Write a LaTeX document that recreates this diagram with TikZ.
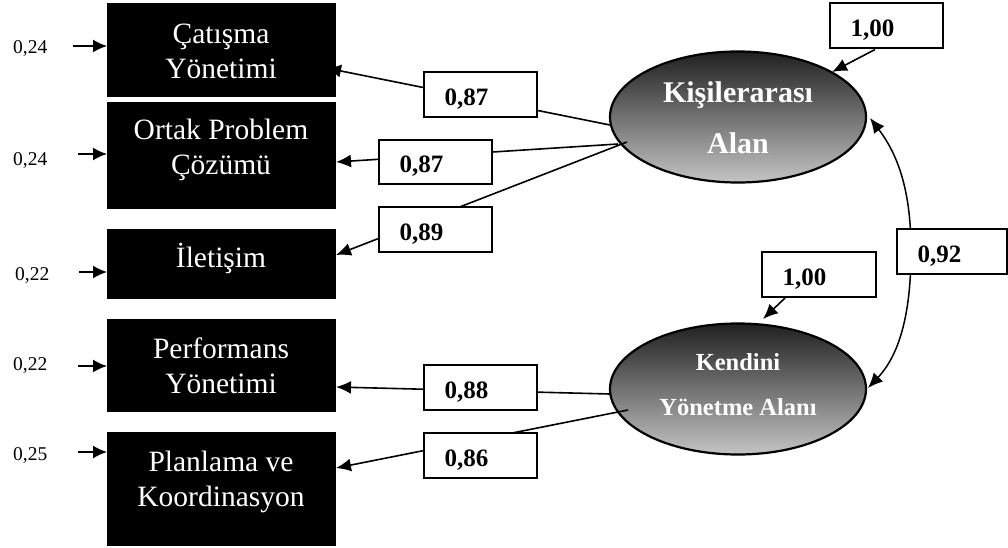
\documentclass[tikz,border=0pt]{standalone}
\usepackage{fontspec}
\setmainfont{Liberation Serif}
\usetikzlibrary{arrows.meta,shapes.geometric}
\definecolor{etop}{RGB}{32,32,32}
\definecolor{ebot}{RGB}{196,196,196}
\begin{document}
\begin{tikzpicture}[x=1pt,y=-1pt,
  blackbox/.style={draw=black,line width=0.8pt,fill=black,inner sep=0pt,minimum width=228pt},
  boxtext/.style={text=white,align=center,inner sep=0pt,anchor=north,font=\fontsize{29.5}{35}\selectfont},
  coef/.style={draw=black,line width=2pt,fill=white,inner ysep=0pt,inner xsep=0pt,
    minimum width=113pt,minimum height=45pt,text width=72pt,align=left,
    text height=24pt,text depth=2.4pt,
    font=\bfseries\fontsize{25}{28}\selectfont},
  errlab/.style={inner sep=0pt,anchor=base west,font=\fontsize{19.5}{22}\selectfont},
  latent/.style={ellipse,draw=black,line width=2.2pt,top color=etop,bottom color=ebot,
    inner sep=0pt,minimum width=256pt,minimum height=131pt},
  lattext/.style={text=white,align=center,inner sep=0pt,anchor=north},
  conn/.style={line width=1.6pt,-{Latex[length=15pt,width=13pt]}},
  small/.style={line width=1.6pt,-{Latex[length=14pt,width=13pt]}}
]
\useasboundingbox (0,0) rectangle (1008,548);

% latent variables
\node[latent] (kis) at (738,117) {};
\node[latent] (ken) at (738,389) {};
\node[lattext,font=\bfseries\fontsize{30}{51}\selectfont] (kt) at (738,81.5) {Kişilerarası\\Alan};
\node[lattext,font=\bfseries\fontsize{24.5}{45}\selectfont] (kn) at (738,353.5) {Kendini\\Yönetme Alanı};

% loading connectors
\coordinate (k1) at (610,125); \coordinate (p1) at (326,68);
\coordinate (k2) at (618,144); \coordinate (p2) at (336,162);
\coordinate (k3) at (627,142); \coordinate (p3) at (336,255);
\coordinate (k4) at (610,394); \coordinate (p4) at (336,387);
\coordinate (k5) at (628,410); \coordinate (p5) at (336,468);
\foreach \i in {1,...,5} {\draw[conn] (k\i) -- (p\i);}

% observed variables
\node[blackbox,minimum height=93pt] (b1) at (221,49.5) {};
\node[blackbox,minimum height=106pt] (b2) at (221,155) {};
\node[blackbox,minimum height=69pt] (b3) at (221,263.5) {};
\node[blackbox,minimum height=92pt] (b4) at (221,365) {};
\node[blackbox,minimum height=113pt] (b5) at (221,488.5) {};
\node[boxtext] (t1) at (221,23.5) {Çatışma\\Yönetimi};
\node[boxtext] (t2) at (221,119) {Ortak Problem\\Çözümü};
\node[boxtext,anchor=base] (t3) at (221,267) {İletişim};
\node[boxtext] (t4) at (221,338) {Performans\\Yönetimi};
\node[boxtext] (t5) at (221,451) {Planlama ve\\Koordinasyon};

% error terms
\node[errlab] (e1) at (13,54) {0,24};
\node[errlab] (e2) at (13,166) {0,24};
\node[errlab] (e3) at (15,280) {0,22};
\node[errlab] (e4) at (13,370) {0,22};
\node[errlab] (e5) at (13,460) {0,25};
\coordinate (s1) at (73,46);  \coordinate (d1) at (107,46);
\coordinate (s2) at (78,154); \coordinate (d2) at (107,154);
\coordinate (s3) at (79,272); \coordinate (d3) at (107,272);
\coordinate (s4) at (78,366); \coordinate (d4) at (107,366);
\coordinate (s5) at (78,452); \coordinate (d5) at (107,452);
\foreach \i in {1,...,5} {\draw[small] (s\i) -- (d\i);}

% variance arrows
\coordinate (v1) at (832,72);
\coordinate (v2) at (763,319);
\node[coef] (c6) at (886.5,26) {1,00};
\node[coef,minimum width=114pt,text width=73pt] (c7) at (819,274.5) {1,00};
\draw[conn] (c6.south -| 875,0) -- (v1);
\draw[conn] (c7.south -| 785,0) -- (v2);

% covariance
\coordinate (q1) at (870,118);
\coordinate (q2) at (868,388);
\draw[line width=1.5pt,{Latex[length=15pt,width=13pt]}-{Latex[length=15pt,width=13pt]}]
  (q1) .. controls (902,160) and (911,200) .. (911,251)
       .. controls (911,300) and (904,350) .. (q2);

% loading labels
\node[coef] (c1) at (480.5,94.5) {0,87};
\node[coef,minimum height=44pt] (c2) at (435.5,162) {0,87};
\node[coef] (c3) at (435.5,229.5) {0,89};
\node[coef] (c4) at (480.5,387.5) {0,88};
\node[coef] (c5) at (480.5,455.5) {0,86};
\node[coef,minimum width=110pt,text width=69pt] (c8) at (952,251.5) {0,92};
\end{tikzpicture}
\end{document}
